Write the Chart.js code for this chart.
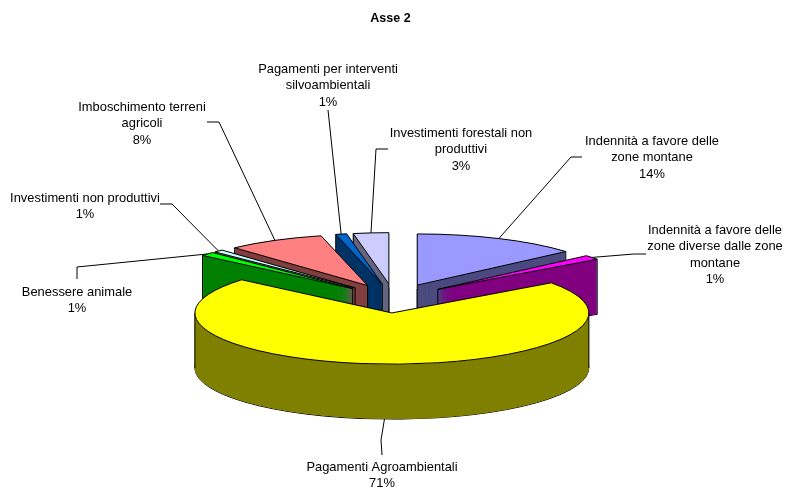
<!DOCTYPE html>
<html>
<head>
<meta charset="utf-8">
<title>Asse 2</title>
<script src="https://cdn.jsdelivr.net/npm/chart.js@4"></script>
<style>
  body { margin: 0; background: #fff; }
</style>
</head>
<body>
<canvas id="grafico" width="785" height="487"></canvas>
<script>
// Dati
const categorie = [
  ["Indennità a favore delle", "zone montane"],
  ["Indennità a favore delle", "zone diverse dalle zone", "montane"],
  ["Pagamenti Agroambientali"],
  ["Benessere animale"],
  ["Investimenti non produttivi"],
  ["Imboschimento terreni", "agricoli"],
  ["Pagamenti per interventi", "silvoambientali"],
  ["Investimenti forestali non", "produttivi"]
];
const valori = [13.6, 1.4, 71.2, 1.2, 0.8, 8.0, 0.9, 2.9];
const coloriSopra = ["#9999FF", "#FF00FF", "#FFFF00", "#00FF00", "#CCFFFF", "#FF8080", "#0066CC", "#CCCCFF"];
const coloriLato = ["#4C4C80", "#800080", "#808000", "#008000", "#668080", "#804040", "#003366", "#666680"];

// Posizione delle etichette: centro testo, y prima riga, gomito della linea guida
const posEtichette = [
  { x: 652, y: 141, guida: [[582, 157], [571, 157]] },
  { x: 715, y: 230, guida: [[646, 254], [634, 254]] },
  { x: 382, y: 467, guida: [[382, 455], [381, 440]] },
  { x: 77, y: 292, guida: [[77, 279], [77, 267]] },
  { x: 85, y: 198, guida: [[160, 204], [172, 204]] },
  { x: 142, y: 107, guida: [[207, 122], [219, 122]] },
  { x: 328, y: 69, guida: [[328, 110]] },
  { x: 461, y: 133, guida: [[388, 149], [376, 149]] }
];

// Ordine di disegno, da dietro verso davanti
const ordine = [7, 0, 6, 5, 4, 1, 3, 2];

const CENTRO_X = 394, CENTRO_Y = 298.4; // centro della torta sullo schermo
const SCHIACCIA = 0.26;  // prospettiva
const ESPLOSO = 56;      // distacco delle fette
const SPESSORE = 55;     // altezza della torta
const INTERLINEA = 16.5;

function tracciaFetta(ctx, arc) {
  ctx.beginPath();
  ctx.moveTo(arc.x, arc.y);
  ctx.arc(arc.x, arc.y, arc.outerRadius, arc.startAngle, arc.endAngle);
  ctx.closePath();
}

function linea(ctx) {
  ctx.lineWidth = 1;
  ctx.strokeStyle = "#000";
  ctx.stroke();
}

const torta3d = {
  id: "torta3d",
  beforeDatasetsDraw(chart) {
    const ctx = chart.ctx;
    const meta = chart.getDatasetMeta(0);
    ordine.forEach(function (i) {
      const arc = meta.data[i];
      const metà = (arc.startAngle + arc.endAngle) / 2;
      const dx = Math.cos(metà) * ESPLOSO;
      const dy = Math.sin(metà) * ESPLOSO;
      const lato = Object.create(arc);
      lato.options = Object.assign({}, arc.options, { backgroundColor: coloriLato[i], borderWidth: 0 });

      const posiziona = function (abbassa) {
        ctx.translate(CENTRO_X, CENTRO_Y + abbassa);
        ctx.scale(1, SCHIACCIA);
        ctx.translate(dx - arc.x, dy - arc.y);
      };
      const contorno = function (abbassa) {
        ctx.save();
        posiziona(abbassa);
        tracciaFetta(ctx, arc);
        ctx.restore();
        linea(ctx);
      };

      // base e fianco
      contorno(SPESSORE);
      for (let h = SPESSORE - 0.25; h > 0; h -= 0.25) {
        ctx.save();
        posiziona(h);
        lato.draw(ctx);
        ctx.restore();
      }
      // spigoli verticali solo ai due estremi della sagoma
      const punti = [[0, 0]];
      [arc.startAngle, arc.endAngle].forEach(function (a) {
        punti.push([Math.cos(a) * arc.outerRadius, Math.sin(a) * arc.outerRadius]);
      });
      [0, Math.PI].forEach(function (a) {
        if (a > arc.startAngle && a < arc.endAngle) {
          punti.push([Math.cos(a) * arc.outerRadius, Math.sin(a) * arc.outerRadius]);
        }
      });
      punti.sort(function (p, q) { return p[0] - q[0]; });
      [punti[0], punti[punti.length - 1]].forEach(function (p) {
        const px = CENTRO_X + dx + p[0];
        const py = CENTRO_Y + (dy + p[1]) * SCHIACCIA;
        ctx.beginPath();
        ctx.moveTo(px, py);
        ctx.lineTo(px, py + SPESSORE);
        linea(ctx);
      });
      // faccia superiore
      ctx.save();
      posiziona(0);
      arc.draw(ctx);
      ctx.restore();
      contorno(0);
    });
    return false;
  },
  // le etichette stanno qui: afterDatasetsDraw non parte se il disegno è annullato
  afterDraw(chart) {
    const ctx = chart.ctx;
    const meta = chart.getDatasetMeta(0);
    ctx.save();
    ctx.font = "12.9px 'Liberation Sans'";
    ctx.fillStyle = "#000";
    ctx.textAlign = "center";
    ctx.textBaseline = "middle";
    categorie.forEach(function (righe, i) {
      const pos = posEtichette[i];
      const testo = righe.concat(Math.round(valori[i]) + "%");
      testo.forEach(function (r, n) {
        ctx.fillText(r, pos.x, pos.y + n * INTERLINEA);
      });
      // la guida arriva a metà del bordo esterno della fetta
      const arc = meta.data[i];
      const metà = (arc.startAngle + arc.endAngle) / 2;
      const raggio = arc.outerRadius + ESPLOSO;
      const fineX = CENTRO_X + Math.cos(metà) * raggio;
      let fineY = CENTRO_Y + Math.sin(metà) * raggio * SCHIACCIA;
      if (Math.sin(metà) > 0) fineY += SPESSORE;
      ctx.beginPath();
      pos.guida.forEach(function (p, n) {
        if (n === 0) ctx.moveTo(p[0], p[1]);
        else ctx.lineTo(p[0], p[1]);
      });
      ctx.lineTo(fineX, fineY);
      linea(ctx);
    });
    ctx.restore();
  }
};

new Chart(document.getElementById("grafico").getContext("2d"), {
  type: "pie",
  data: {
    labels: categorie,
    datasets: [{
      data: valori,
      backgroundColor: coloriSopra,
      borderWidth: 0
    }]
  },
  options: {
    responsive: false,
    animation: false,
    radius: 197,
    layout: { padding: { right: 4 } },
    plugins: {
      legend: { display: false },
      tooltip: { enabled: false },
      title: {
        display: true,
        text: "Asse 2",
        color: "#000",
        font: { family: "'Liberation Sans'", size: 12.5, weight: "bold" },
        padding: { top: 11, bottom: 10 }
      }
    }
  },
  plugins: [torta3d]
});
</script>
</body>
</html>
